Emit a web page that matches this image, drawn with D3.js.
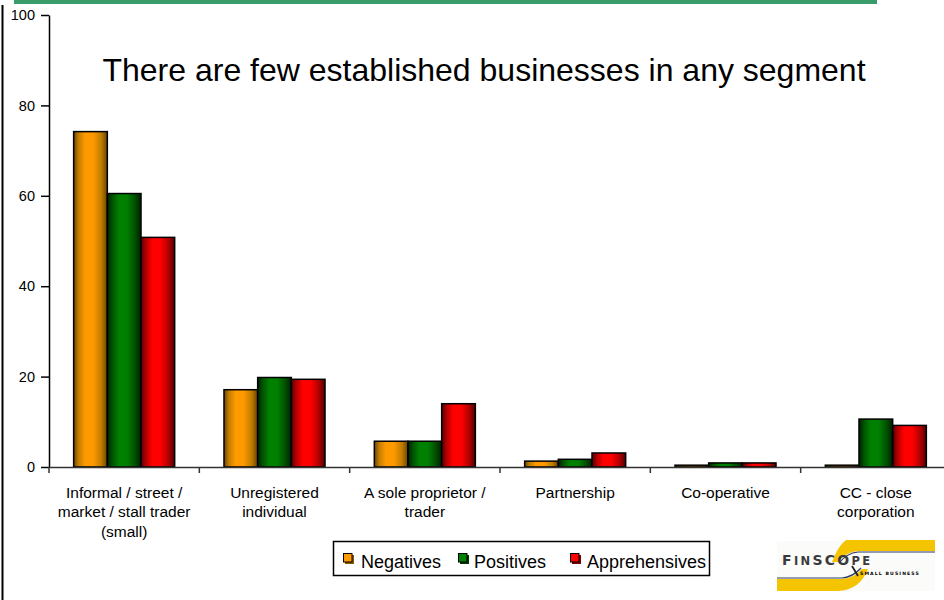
<!DOCTYPE html>
<html>
<head>
<meta charset="utf-8">
<script src="https://cdn.jsdelivr.net/npm/d3@7"></script>
<style>
  html, body { margin: 0; padding: 0; background: #fff; }
  svg { display: block; }
  text { font-family: "Liberation Sans", Arial, sans-serif; fill: #000; }
</style>
</head>
<body>
<svg id="chart" width="944" height="600"></svg>
<script>
// Business type categories (label lines)
const categories = [
  ["Informal / street /", "market / stall trader", "(small)"],
  ["Unregistered", "individual"],
  ["A sole proprietor /", "trader"],
  ["Partnership"],
  ["Co-operative"],
  ["CC - close", "corporation"]
];
const seriesNames = ["Negatives", "Positives", "Apprehensives"];
const negatives     = [74.2, 17.1, 5.7, 1.3, 0.4, 0.4];
const positives     = [60.5, 19.8, 5.7, 1.7, 0.9, 10.6];
const apprehensives = [50.8, 19.4, 14.0, 3.1, 0.9, 9.2];
const yTicks = [0, 20, 40, 60, 80, 100];
const title = "There are few established businesses in any segment";

const seriesValues = [negatives, positives, apprehensives];
const palette = [
  { dark: "#6a4400", mid: "#c07c00", bright: "#ff9900", legend: "#ff9900", shadow: "#8a5a00" },
  { dark: "#002000", mid: "#005000", bright: "#008000", legend: "#008000", shadow: "#003800" },
  { dark: "#500000", mid: "#b00000", bright: "#ff0000", legend: "#ff0000", shadow: "#800000" }
];

const svg = d3.select("#chart");
const defs = svg.append("defs");

// Cylinder-like shading for each series
palette.forEach((p, i) => {
  const g = defs.append("linearGradient")
    .attr("id", "grad" + i)
    .attr("x1", "0%").attr("x2", "100%").attr("y1", "0%").attr("y2", "0%");
  [[0, p.dark], [0.14, p.mid], [0.34, p.bright], [0.58, p.bright], [0.82, p.mid], [1, p.dark]]
    .forEach(([o, c]) => g.append("stop").attr("offset", o).attr("stop-color", c));
});

// Page frame: top green rule and left border
svg.append("rect").attr("x", 14).attr("y", 0).attr("width", 863).attr("height", 4).attr("fill", "#3a9b6b");
svg.append("line").attr("x1", 2.5).attr("x2", 2.5).attr("y1", 5).attr("y2", 600)
  .attr("stroke", "#000").attr("stroke-width", 2);

const x0 = 49, x1 = 951, yTop = 15, yBase = 467;

const x = d3.scaleBand().domain(d3.range(categories.length)).range([x0, x1]).paddingInner(0).paddingOuter(0);
const groupWidth = x.bandwidth() * 0.672;
const xs = d3.scaleBand().domain(d3.range(seriesNames.length)).range([0, groupWidth]).padding(0);
const y = d3.scaleLinear().domain([0, 100]).range([yBase, yTop]);

// Title
svg.append("text")
  .attr("x", 484).attr("y", 81)
  .attr("text-anchor", "middle")
  .style("font-size", "32px")
  .text(title);

// Bars
const groups = svg.append("g").selectAll("g")
  .data(categories.map((c, i) => i))
  .join("g")
  .attr("transform", i => `translate(${x(i) + (x.bandwidth() - groupWidth) / 2},0)`);

groups.selectAll("rect")
  .data(i => seriesValues.map((vals, s) => ({ s, v: vals[i] })))
  .join("rect")
  .attr("x", d => xs(d.s))
  .attr("width", xs.bandwidth())
  .attr("y", d => y(d.v))
  .attr("height", d => y(0) - y(d.v))
  .attr("fill", d => `url(#grad${d.s})`)
  .attr("stroke", "#000")
  .attr("stroke-width", 1.5);

// Y axis
const yAxis = d3.axisLeft(y).tickValues(yTicks).tickSize(8).tickPadding(6).tickSizeOuter(0);
const gy = svg.append("g").attr("transform", `translate(${x0},0)`).call(yAxis);
gy.select(".domain").attr("stroke", "#000").attr("stroke-width", 1.5);
gy.selectAll(".tick line").attr("stroke", "#000").attr("stroke-width", 1.5);
gy.selectAll(".tick text").style("font-size", "14.5px").style("font-family", "Liberation Sans, Arial, sans-serif").attr("fill", "#000");

// X axis baseline with tick marks at category boundaries
const gx = svg.append("g");
gx.append("line").attr("x1", x0).attr("x2", 944).attr("y1", yBase + 0.5).attr("y2", yBase + 0.5)
  .attr("stroke", "#333").attr("stroke-width", 1.5);
gx.selectAll("line.tk")
  .data(d3.range(categories.length + 1))
  .join("line").attr("class", "tk")
  .attr("x1", i => x0 + i * x.step()).attr("x2", i => x0 + i * x.step())
  .attr("y1", yBase).attr("y2", yBase + 6)
  .attr("stroke", "#333").attr("stroke-width", 1.5);

// Category labels
const labels = svg.append("g").selectAll("text")
  .data(categories)
  .join("text")
  .attr("text-anchor", "middle")
  .attr("x", (c, i) => x(i) + x.bandwidth() / 2)
  .attr("y", 498)
  .style("font-size", "15.5px");
labels.selectAll("tspan")
  .data((c, i) => c.map(line => ({ line, i })))
  .join("tspan")
  .attr("x", d => x(d.i) + x.bandwidth() / 2)
  .attr("dy", (d, j) => j === 0 ? 0 : 19.3)
  .text(d => d.line);

// Legend
const legend = svg.append("g");
legend.append("rect").attr("x", 333.5).attr("y", 541.5).attr("width", 376).attr("height", 34)
  .attr("fill", "#fff").attr("stroke", "#000").attr("stroke-width", 1.5);
const legendX = [343, 458, 570];
const legendTextX = [361, 474, 587];
seriesNames.forEach((name, i) => {
  legend.append("rect").attr("x", legendX[i] + 2).attr("y", 555).attr("width", 9).attr("height", 9)
    .attr("fill", palette[i].shadow);
  legend.append("rect").attr("x", legendX[i] + 0.5).attr("y", 553.5).attr("width", 8.5).attr("height", 8.5)
    .attr("fill", palette[i].legend).attr("stroke", "#000").attr("stroke-width", 1);
  legend.append("text").attr("x", legendTextX[i]).attr("y", 567.5)
    .style("font-size", "18px").text(name);
});

// FinScope logo
const logo = svg.append("g");
logo.append("rect").attr("x", 777).attr("y", 541).attr("width", 158).attr("height", 50).attr("fill", "#fbfbfa");
logo.append("path")
  .attr("d", "M846,540 L935,540 L935,551 L858,551 Q846,552 838,562 L832,562 Q838,546 846,540 Z")
  .attr("fill", "#f5c400");
logo.append("path")
  .attr("d", "M935,552 L858,552 Q847,553 839,563")
  .attr("fill", "none").attr("stroke", "#2a3a6a").attr("stroke-width", 1.2);
logo.append("path")
  .attr("d", "M777,579 L842,579 Q854,578 862,569 L868,569 Q860,590 838,591 L777,591 Z")
  .attr("fill", "#f5c400");
logo.append("path")
  .attr("d", "M777,578 L842,578 Q853,577 861,568")
  .attr("fill", "none").attr("stroke", "#2a3a6a").attr("stroke-width", 1.2);
const brand = logo.append("text").attr("x", 782).attr("y", 565)
  .style("font-family", "DejaVu Sans, sans-serif").style("font-weight", "bold")
  .style("letter-spacing", "2.3px");
brand.append("tspan").style("font-size", "14px").attr("fill", "#3a3a3a").text("F");
brand.append("tspan").style("font-size", "11.5px").attr("fill", "#3a3a3a").text("IN");
brand.append("tspan").style("font-size", "14px").attr("fill", "#3a3a3a").text("SC");
brand.append("tspan").style("font-size", "14px").attr("fill", "#3a3a3a").text("O");
brand.append("tspan").style("font-size", "11.5px").attr("fill", "#3a3a3a").text("PE");
logo.append("line").attr("x1", 852).attr("y1", 566).attr("x2", 858).attr("y2", 576)
  .attr("stroke", "#222").attr("stroke-width", 1.8);
logo.append("text").attr("x", 860).attr("y", 575)
  .style("font-family", "DejaVu Sans, sans-serif").style("font-size", "4.6px").style("font-weight", "bold")
  .attr("fill", "#777").style("letter-spacing", "1.1px").text("SMALL BUSINESS");
</script>
</body>
</html>
